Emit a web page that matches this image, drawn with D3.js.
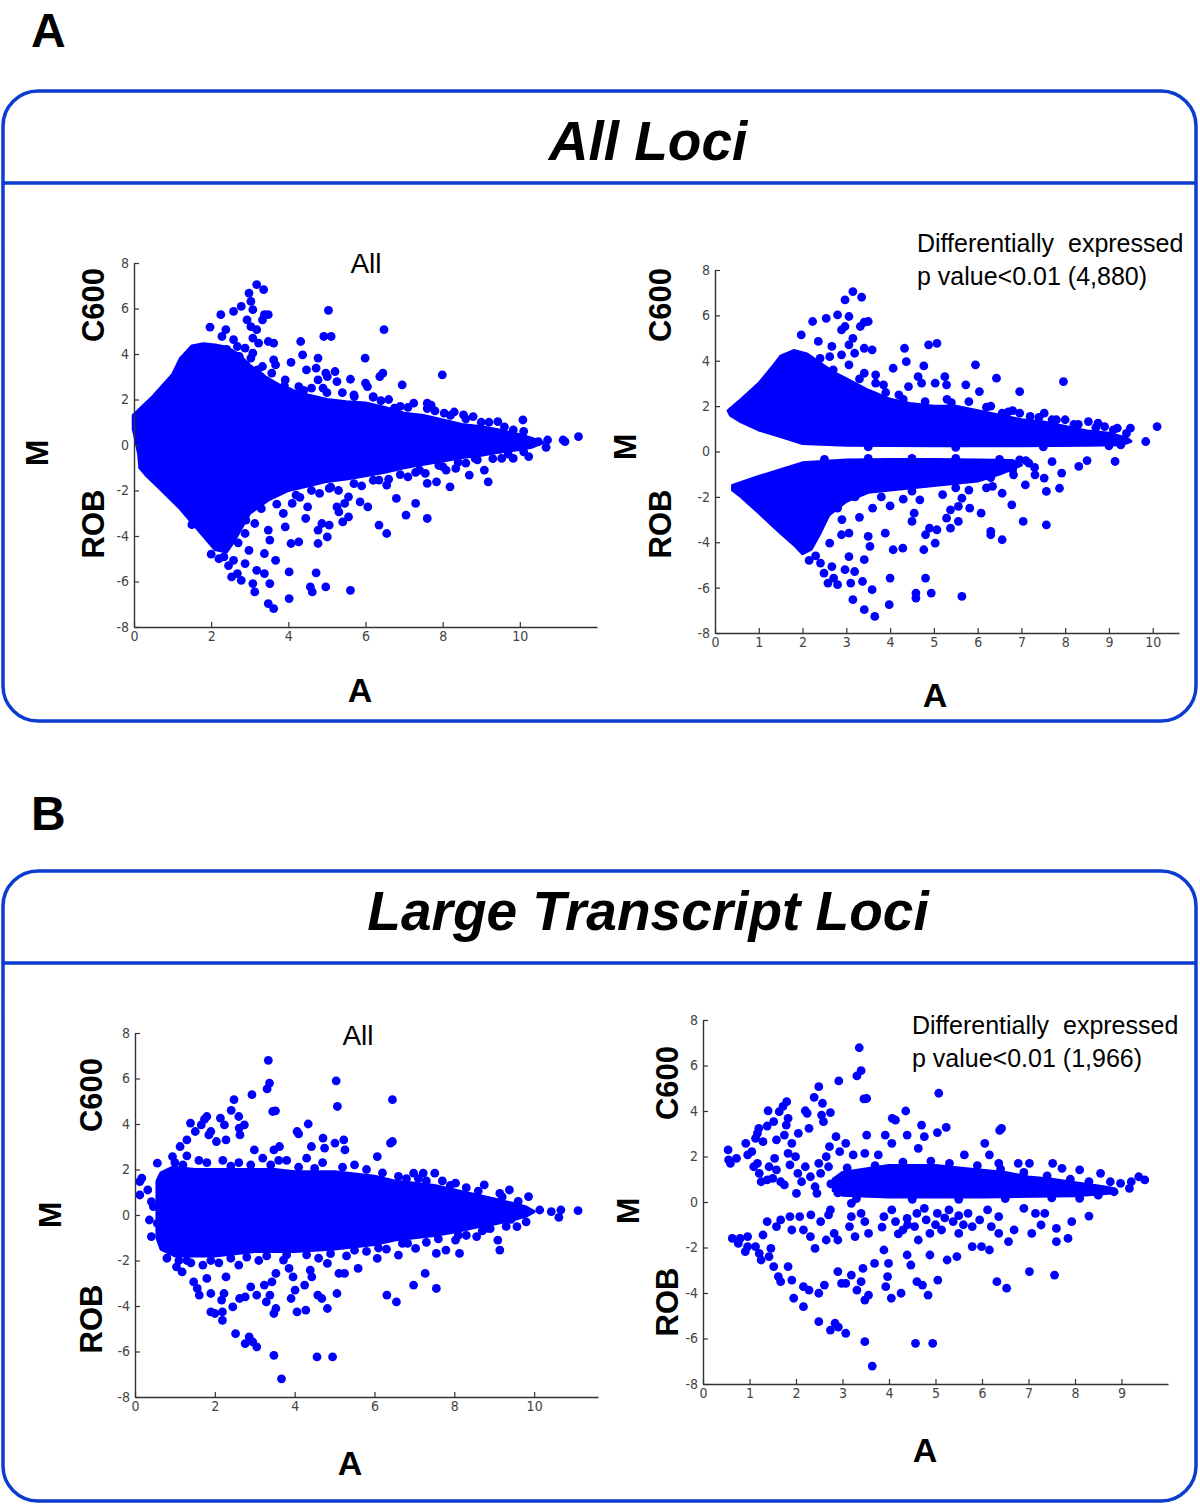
<!DOCTYPE html>
<html>
<head>
<meta charset="utf-8">
<script src="https://cdn.jsdelivr.net/npm/d3@7"></script>
<style>
  body { margin: 0; background: #fff; }
  svg text { font-family: "Liberation Sans", Arial, Helvetica, sans-serif; }
</style>
</head>
<body>
<div id="chart"></div>
<script>
// ---- text ----
const sectionLetters = ["A", "B"];
const sectionTitles = ["All Loci", "Large Transcript Loci"];
const panelNotes = [
    ["All"],
    ["Differentially  expressed", "p value<0.01 (4,880)"],
    ["All"],
    ["Differentially  expressed", "p value<0.01 (1,966)"]
];

// ---- ticks ----
const ticksM = [-8, -6, -4, -2, 0, 2, 4, 6, 8];
const ticksAEven = [0, 2, 4, 6, 8, 10];
const ticksAllRight = [0, 1, 2, 3, 4, 5, 6, 7, 8, 9, 10];
const ticksLargeRight = [0, 1, 2, 3, 4, 5, 6, 7, 8, 9];

// ---- dense cores, outline of the solid cloud as [A, M] ----
const coreAllLeft = [[-0.02,0.7],[-0.02,1.3],[0.5,2.15],[1.0,3.1],[1.2,3.8],[1.5,4.35],[1.8,4.45],[2.1,4.4],[2.4,4.3],[2.7,4.0],[3.0,3.5],[3.4,3.0],[3.8,2.6],[4.2,2.35],[4.5,2.2],[5.0,2.0],[5.5,1.9],[6.0,1.85],[6.5,1.65],[7.0,1.4],[7.5,1.3],[8.0,1.1],[8.5,0.9],[9.0,0.8],[9.5,0.65],[10.0,0.45],[10.3,0.3],[10.6,0.1],[10.3,-0.1],[10.0,-0.2],[9.5,-0.3],[9.0,-0.45],[8.5,-0.55],[8.0,-0.7],[7.5,-0.85],[7.0,-1.0],[6.5,-1.2],[6.0,-1.35],[5.5,-1.5],[5.0,-1.6],[4.5,-1.8],[4.0,-2.0],[3.5,-2.4],[3.0,-3.0],[2.8,-3.6],[2.6,-4.2],[2.4,-4.7],[2.1,-4.6],[1.8,-4.0],[1.2,-2.8],[0.6,-1.8],[0.3,-1.3],[0.15,-1.0],[0.12,-0.4],[0.05,0.2]];
const coreAllRightUp = [[0.3,1.8],[0.6,2.3],[1.0,3.0],[1.3,3.7],[1.5,4.2],[1.8,4.45],[2.1,4.3],[2.4,3.9],[2.7,3.5],[3.0,3.2],[3.5,2.7],[4.0,2.3],[4.5,2.1],[5.0,2.0],[5.5,2.0],[6.0,1.8],[6.5,1.6],[7.0,1.4],[7.5,1.3],[8.0,1.1],[8.5,0.9],[9.0,0.8],[9.4,0.6],[9.5,0.45],[9.3,0.3],[8.5,0.28],[7.0,0.25],[5.0,0.25],[3.0,0.27],[2.0,0.35],[1.5,0.66],[1.0,0.95],[0.6,1.3],[0.35,1.6]];
const coreAllRightDown = [[0.4,-1.5],[1.0,-1.1],[1.5,-0.8],[2.0,-0.5],[3.0,-0.38],[4.0,-0.35],[5.0,-0.35],[6.0,-0.38],[6.8,-0.4],[7.0,-0.6],[6.5,-1.0],[6.0,-1.3],[5.0,-1.5],[4.0,-1.7],[3.5,-1.8],[3.0,-2.2],[2.6,-2.8],[2.4,-3.6],[2.2,-4.3],[2.0,-4.5],[1.8,-4.1],[1.5,-3.6],[1.0,-2.7],[0.6,-2.0],[0.4,-1.7]];
const coreLargeLeft = [[0.55,-1.0],[0.55,1.5],[0.65,1.85],[0.95,2.1],[1.5,2.0],[2.0,2.0],[2.5,2.0],[3.0,2.0],[3.5,2.0],[4.0,1.9],[5.0,1.9],[6.0,1.7],[6.5,1.5],[7.0,1.4],[7.5,1.3],[8.0,1.1],[8.5,0.9],[9.0,0.7],[9.5,0.5],[9.8,0.35],[10.0,0.15],[9.8,-0.05],[9.5,-0.2],[9.0,-0.4],[8.5,-0.55],[8.0,-0.75],[7.5,-0.9],[7.0,-1.0],[6.5,-1.1],[6.0,-1.3],[5.5,-1.4],[5.0,-1.5],[4.0,-1.6],[3.0,-1.6],[2.5,-1.7],[2.0,-1.8],[1.5,-1.8],[1.0,-1.8],[0.65,-1.5]];
const coreLargeRight = [[2.8,0.5],[2.8,1.0],[3.0,1.3],[3.5,1.45],[4.0,1.6],[4.5,1.6],[5.0,1.6],[5.5,1.5],[6.0,1.4],[6.5,1.3],[7.0,1.1],[7.5,1.0],[8.0,0.85],[8.5,0.7],[8.8,0.6],[8.8,0.4],[8.0,0.28],[6.0,0.22],[4.0,0.22],[3.0,0.3]];

// ---- single loci outside / along the cores, [A, M] ----
const lociAllLeft = [[3.18,7.05],[3.36,6.83],[2.98,6.68],[3.03,6.31],[2.78,6.09],[2.58,5.87],[2.25,5.73],[3.08,5.95],[3.38,5.73],[3.48,5.73],[3.33,5.5],[2.93,5.5],[3.03,5.2],[1.97,5.18],[3.18,5.07],[2.38,5.07],[2.28,4.77],[2.58,4.63],[3.08,4.7],[2.68,4.33],[2.88,4.26],[3.23,4.48],[3.48,4.55],[3.62,4.48],[2.73,3.89],[3.03,3.82],[3.08,4.04],[3.33,3.45],[3.62,3.74],[3.67,3.52],[4.07,3.63],[4.32,4.55],[4.37,3.96],[4.77,3.82],[4.92,4.77],[5.11,4.77],[5.04,5.92],[6.48,5.07],[5.99,3.82],[4.72,3.38],[4.47,3.3],[4.97,3.16],[5.21,3.23],[5.01,3.01],[5.26,2.79],[5.61,2.89],[6.0,2.72],[6.05,2.57],[6.45,3.16],[6.37,3.01],[6.95,2.64],[7.99,3.08],[4.77,2.86],[4.27,2.57],[3.92,2.86],[3.57,3.16],[3.28,3.01],[3.67,2.57],[4.02,2.35],[5.71,2.13],[6.2,2.13],[6.75,1.62],[7.25,1.84],[7.6,1.84],[8.04,1.4],[8.54,1.32],[8.79,1.25],[9.43,1.03],[10.08,1.1],[9.83,0.66],[10.48,0.15],[10.72,0.22],[11.12,0.22],[11.17,0.15],[11.52,0.37],[10.68,-0.1],[10.23,-0.51],[9.83,-0.59],[9.53,-0.59],[9.48,-0.19],[8.84,-0.59],[9.08,-1.1],[9.18,-1.62],[8.69,-1.32],[8.34,-1.03],[8.09,-1.1],[8.19,-1.84],[7.84,-1.62],[7.6,-1.69],[7.55,-1.25],[7.1,-1.4],[7.3,-2.57],[7.05,-3.08],[7.6,-3.23],[6.8,-2.35],[6.55,-1.76],[6.35,-1.54],[6.06,-2.72],[5.86,-2.5],[5.56,-2.28],[5.46,-2.57],[5.26,-2.72],[5.31,-2.94],[5.56,-3.16],[5.41,-3.38],[5.06,-3.52],[4.87,-3.45],[4.77,-3.74],[5.01,-4.04],[4.77,-4.33],[4.72,-5.62],[4.97,-6.24],[4.57,-6.24],[4.62,-6.46],[5.61,-6.39],[4.02,-6.75],[4.02,-5.58],[4.07,-4.33],[4.27,-4.26],[3.92,-3.6],[4.45,-3.23],[4.5,-2.72],[4.1,-2.57],[3.87,-3.01],[6.35,-3.52],[6.55,-3.89],[4.81,-2.13],[5.06,-1.91],[3.38,-5.65],[3.48,-6.97],[3.62,-7.19],[3.52,-6.09],[3.13,-6.46],[3.38,-4.77],[3.52,-4.18],[3.48,-3.74],[3.13,-3.45],[2.88,-3.89],[2.98,-4.63],[2.88,-5.21],[2.68,-5.65],[2.53,-5.8],[3.08,-6.09],[2.78,-5.95],[2.58,-5.07],[2.33,-4.92],[3.18,-5.51],[3.67,-5.07],[2.4,4.2],[2.5,3.9],[2.9,3.5],[3.2,3.3],[3.9,2.6],[4.6,2.5],[5.4,2.3],[6.2,2.1],[6.9,1.7],[7.8,1.5],[8.2,1.3],[9.0,1.0],[2.7,-4.3],[2.9,-3.3],[3.3,-2.8],[3.7,-2.6],[4.3,-2.3],[5.3,-2.0],[5.9,-1.8],[6.6,-1.5],[7.3,-1.2],[8.0,-0.95],[8.6,-0.8],[9.3,-0.6],[1.5,-3.5],[2.0,-4.8],[2.2,-5.0],[2.45,-5.3],[4.4,2.4],[4.9,2.5],[5.0,2.3],[5.7,2.2],[6.4,1.95],[6.6,2.0],[7.1,1.65],[7.6,1.6],[7.7,1.75],[8.3,1.45],[8.6,1.15],[9.2,1.0],[9.6,0.8],[10.1,0.6],[4.2,-2.2],[4.6,-2.0],[5.1,-1.85],[5.7,-1.7],[6.2,-1.55],[6.9,-1.3],[7.4,-1.1],[7.9,-0.9],[8.4,-0.75],[8.9,-0.65],[9.7,-0.4],[10.1,-0.3]];

const lociAllRight = [[3.15,7.05],[3.35,6.8],[2.97,6.68],[3.06,5.95],[2.8,6.02],[2.54,5.87],[2.23,5.73],[3.32,5.51],[3.5,5.73],[3.41,5.7],[2.97,5.51],[2.89,5.36],[1.97,5.14],[3.15,4.99],[2.36,4.85],[2.67,4.63],[3.06,4.7],[3.41,4.55],[3.59,4.48],[3.19,4.33],[2.62,4.18],[2.89,4.26],[3.06,3.82],[3.41,3.45],[3.67,3.38],[4.33,4.55],[4.37,3.96],[4.77,3.77],[4.07,3.67],[4.88,4.7],[5.07,4.77],[5.95,3.82],[6.43,3.23],[7.96,3.08],[6.96,2.64],[6.04,2.64],[5.73,2.94],[5.25,3.3],[5.29,2.94],[5.03,3.01],[4.72,3.01],[4.64,3.3],[4.42,2.86],[3.85,2.94],[3.67,3.01],[7.52,1.69],[8.0,1.4],[8.53,1.32],[8.75,1.25],[9.19,1.03],[9.49,1.03],[10.1,1.1],[9.84,0.44],[9.27,0.29],[6.56,1.69],[6.96,1.69],[2.4,4.1],[2.7,3.6],[3.3,3.2],[3.9,2.6],[4.2,2.5],[5.3,2.3],[5.8,2.2],[6.3,2.0],[6.8,1.8],[7.4,1.5],[7.8,1.4],[8.3,1.2],[8.9,1.1],[9.4,0.8],[9.14,-0.44],[8.31,-0.66],[7.92,-0.95],[7.87,-1.62],[7.57,-1.76],[7.52,-1.17],[7.31,-1.03],[7.09,-1.47],[6.82,-1.03],[7.17,-0.51],[6.96,-0.37],[6.78,-2.35],[7.04,-3.08],[7.57,-3.23],[6.56,-1.84],[6.34,-1.54],[6.08,-2.72],[5.82,-2.5],[5.64,-2.06],[5.56,-2.42],[5.38,-2.57],[5.29,-2.94],[5.56,-3.08],[5.38,-3.38],[5.07,-3.45],[4.9,-3.38],[4.81,-3.67],[5.03,-4.04],[4.77,-4.33],[4.81,-5.58],[4.94,-6.24],[4.59,-6.24],[4.59,-6.46],[5.64,-6.39],[3.98,-6.75],[4.0,-5.58],[4.07,-4.33],[4.29,-4.26],[3.89,-3.6],[4.5,-3.08],[4.55,-2.72],[6.3,-3.52],[6.3,-3.67],[6.56,-3.89],[4.68,-2.13],[3.41,-6.97],[3.65,-7.27],[3.59,-6.09],[3.37,-5.73],[3.15,-6.53],[3.19,-5.29],[3.41,-4.77],[3.54,-4.18],[3.5,-3.74],[3.06,-3.6],[2.89,-3.67],[3.06,-4.63],[2.97,-5.21],[2.71,-5.58],[2.58,-5.8],[2.8,-5.87],[2.67,-5.07],[2.41,-4.92],[2.62,-4.04],[2.49,-5.36],[3.1,-5.8],[7.3,-0.7],[6.6,-0.6],[6.2,-1.6],[5.8,-1.7],[5.2,-1.9],[4.3,-2.1],[4.0,-2.4],[3.6,-2.5],[3.3,-2.9],[2.9,-3.0],[3.8,-2.0],[2.3,-4.6],[2.15,-4.8],[8.5,-0.4],[7.7,-0.45],[4.3,2.3],[4.8,2.2],[5.4,2.15],[6.2,1.95],[6.7,1.75],[7.2,1.55],[7.7,1.4],[8.2,1.2],[8.7,1.05],[9.1,0.95],[3.5,0.2],[5.5,0.18],[7.5,0.2],[9.0,0.25],[2.5,-0.35],[3.5,-0.3],[4.5,-0.3],[5.5,-0.3],[6.5,-0.35],[7.1,-0.4],[6.8,-0.8],[6.3,-1.15],[5.5,-1.6],[4.5,-1.75],[3.2,-2.0],[2.8,-2.5]];

const lociLargeLeft = [[3.34,6.8],[5.04,5.9],[6.45,5.07],[3.37,5.8],[3.31,5.54],[2.93,5.29],[2.48,5.07],[2.41,4.6],[2.6,4.33],[3.45,4.55],[3.52,4.58],[5.07,4.77],[2.14,4.26],[2.24,3.96],[1.39,4.04],[1.66,3.96],[1.8,4.33],[1.74,4.2],[2.74,3.96],[2.61,3.82],[2.63,3.52],[4.34,4.0],[4.06,3.67],[4.1,3.57],[4.71,3.38],[5.01,3.16],[5.23,3.3],[6.4,3.16],[6.45,3.23],[5.26,2.86],[6.07,2.57],[4.42,3.01],[4.75,2.94],[2.28,3.3],[2.04,3.23],[1.85,3.52],[1.9,3.67],[1.51,3.67],[1.3,3.3],[1.13,3.01],[0.94,2.57],[0.56,2.28],[0.17,1.62],[0.12,1.47],[0.12,0.88],[0.32,1.1],[0.41,0.59],[0.46,0.37],[0.36,-0.22],[0.41,-0.95],[0.56,-0.37],[3.62,3.01],[3.48,2.86],[2.99,2.86],[7.51,1.84],[7.22,1.84],[6.98,1.84],[8.03,1.4],[8.75,1.32],[9.38,1.1],[9.14,0.95],[9.86,0.81],[10.14,0.22],[10.43,0.15],[10.67,0.22],[11.1,0.19],[10.62,-0.1],[9.57,-0.51],[9.42,-0.19],[9.09,-1.1],[9.14,-1.54],[8.8,-0.59],[8.56,-0.95],[8.13,-1.69],[8.03,-1.1],[7.79,-1.54],[7.55,-1.69],[7.55,-3.23],[7.27,-2.57],[6.98,-3.08],[7.03,-1.47],[6.83,-1.25],[6.6,-1.76],[6.55,-3.82],[6.31,-3.52],[6.07,-1.91],[5.59,-2.35],[5.25,-2.57],[5.11,-2.57],[5.06,-3.45],[4.82,-4.11],[4.68,-3.67],[4.58,-3.52],[4.82,-2.13],[4.43,-2.72],[4.25,-3.08],[4.39,-2.42],[4.06,-4.26],[4.28,-4.18],[3.91,-3.67],[4.01,-3.3],[3.96,-2.72],[3.86,-2.35],[3.72,-1.98],[3.53,-2.57],[3.43,-2.94],[3.48,-4.33],[3.53,-4.11],[3.38,-3.52],[3.29,-3.82],[3.24,-3.08],[3.05,-3.52],[2.76,-3.6],[2.9,-3.16],[2.62,-3.67],[2.45,-4.04],[2.23,-3.45],[2.17,-3.74],[2.19,-4.26],[2.19,-4.63],[2.0,-4.33],[1.9,-4.26],[1.8,-2.79],[1.9,-3.45],[1.61,-3.52],[1.56,-3.23],[1.47,-2.94],[2.28,-2.72],[2.52,-5.21],[2.76,-5.65],[2.86,-5.36],[2.95,-5.58],[3.05,-5.8],[3.48,-6.17],[3.67,-7.2],[4.56,-6.24],[4.95,-6.24],[1.18,-2.5],[1.04,-2.28],[1.0,2.3],[1.3,2.6],[1.6,2.4],[2.2,2.4],[2.6,2.3],[3.2,2.5],[3.8,2.4],[4.3,2.5],[4.7,2.3],[5.5,2.2],[5.8,2.0],[6.6,1.7],[7.1,1.6],[7.7,1.5],[8.3,1.2],[1.1,-2.0],[1.4,-2.1],[1.7,-2.2],[2.1,-2.1],[2.6,-2.2],[3.1,-2.0],[4.6,-1.9],[5.3,-1.8],[5.8,-1.6],[6.3,-1.5],[7.3,-1.2],[8.3,-0.9],[8.9,-0.6],[1.2,2.2],[1.8,2.3],[2.4,2.15],[2.9,2.2],[3.4,2.2],[3.6,2.4],[4.1,2.1],[4.5,2.05],[5.2,2.1],[6.2,1.85],[6.8,1.6],[7.3,1.5],[7.9,1.3],[8.6,1.05],[9.2,0.8],[9.6,0.6],[0.8,-1.9],[1.3,-2.0],[1.9,-2.0],[2.4,-1.9],[2.8,-1.85],[3.3,-1.8],[3.8,-1.75],[4.3,-1.75],[4.9,-1.7],[5.5,-1.55],[6.1,-1.45],[6.7,-1.25],[7.6,-1.05],[8.1,-0.9],[8.7,-0.7],[9.3,-0.5],[9.8,-0.3]];

const lociLargeRight = [[3.36,6.78],[3.4,5.77],[3.31,5.54],[2.92,5.32],[2.49,5.07],[2.39,4.6],[2.57,4.34],[2.74,3.93],[2.55,3.82],[2.59,3.53],[3.46,4.53],[3.52,4.55],[5.07,4.78],[4.36,4.0],[4.07,3.68],[4.14,3.6],[4.7,3.38],[5.04,3.05],[5.23,3.28],[6.42,3.24],[6.38,3.15],[6.06,2.58],[3.52,2.94],[3.92,2.94],[4.39,2.94],[4.76,2.87],[4.06,2.58],[2.28,3.24],[2.05,3.02],[2.2,4.01],[2.24,3.9],[1.8,4.41],[1.72,4.2],[1.64,3.97],[1.4,4.01],[1.52,3.53],[1.38,3.34],[1.2,3.24],[1.17,3.02],[1.83,3.68],[1.79,3.38],[1.75,2.94],[1.58,2.73],[1.29,2.65],[1.13,2.8],[0.92,2.58],[0.54,2.29],[0.55,1.85],[0.59,1.7],[0.72,1.92],[0.96,2.07],[1.05,2.21],[1.09,1.55],[1.17,1.7],[1.21,1.26],[1.25,0.89],[1.38,0.97],[1.42,1.55],[1.54,1.92],[1.58,1.41],[1.5,1.04],[1.67,0.89],[1.75,0.75],[1.83,2.14],[1.87,1.63],[1.91,2.58],[1.99,1.99],[2.04,1.26],[2.12,0.89],[2.01,0.38],[2.2,1.55],[2.31,1.11],[2.41,0.67],[2.45,0.38],[2.49,1.7],[2.53,1.26],[2.65,1.99],[2.72,2.43],[2.7,1.55],[2.86,2.87],[2.94,2.21],[3.07,2.58],[3.23,2.07],[3.48,2.14],[3.77,2.07],[4.63,2.36],[5.62,2.07],[6.16,2.07],[6.36,1.7],[6.78,1.7],[7.02,1.7],[7.52,1.7],[7.72,1.48],[8.1,1.41],[8.55,1.26],[8.76,0.89],[8.98,0.82],[9.21,0.89],[9.37,1.11],[9.5,0.97],[9.17,0.6],[8.84,0.45],[8.1,0.16],[3.19,-0.06],[8.3,-0.62],[7.93,-0.86],[7.85,-1.6],[7.6,-1.16],[7.6,-1.74],[7.35,-0.5],[7.15,-0.5],[7.27,-1.01],[7.07,-1.38],[6.9,-0.28],[6.69,-1.23],[7.02,-3.06],[7.56,-3.21],[6.32,-3.5],[6.53,-3.79],[6.57,-1.74],[6.36,-1.38],[6.16,-2.11],[5.99,-1.96],[5.79,-1.96],[5.46,-2.4],[5.25,-2.55],[5.05,-3.43],[4.84,-4.09],[4.72,-3.65],[4.6,-3.5],[4.88,-2.33],[4.47,-2.77],[4.39,-2.33],[4.26,-4.01],[4.05,-4.23],[3.93,-3.72],[3.97,-3.28],[3.99,-2.7],[3.89,-2.11],[3.69,-2.7],[3.48,-4.31],[3.56,-4.09],[3.44,-2.92],[3.4,-3.5],[3.31,-3.87],[3.19,-3.21],[3.07,-3.58],[2.9,-3.06],[2.98,-3.58],[2.61,-3.65],[2.49,-4.01],[2.28,-3.87],[2.16,-3.72],[2.16,-4.6],[1.95,-4.23],[1.91,-3.43],[1.83,-2.84],[1.67,-3.5],[1.62,-3.28],[1.52,-2.84],[1.42,-2.4],[1.46,-2.04],[1.25,-2.55],[1.21,-2.26],[1.13,-1.96],[0.96,-1.96],[0.91,-2.18],[0.76,-1.82],[0.63,-1.6],[0.8,-1.6],[0.96,-1.52],[1.29,-1.45],[1.38,-0.86],[1.58,-1.08],[1.67,-0.79],[1.91,-1.23],[1.87,-0.64],[2.08,-0.64],[2.16,-1.23],[2.32,-0.57],[2.31,-1.52],[2.53,-0.86],[2.7,-0.57],[2.74,-0.35],[2.82,-1.38],[2.9,-1.67],[2.65,-1.67],[2.41,-2.04],[3.15,-1.08],[3.19,-0.64],[3.27,-1.52],[3.4,-0.5],[3.48,-0.86],[3.56,-1.38],[3.89,-0.64],[4.06,-0.35],[4.14,-0.86],[4.3,-1.23],[4.39,-0.72],[4.55,-1.08],[4.63,-1.67],[4.76,-0.28],[4.8,-0.79],[4.88,-1.38],[5.04,-0.5],[5.13,-1.23],[5.29,-0.35],[5.38,-0.86],[5.5,-1.38],[5.7,-0.5],[5.79,-1.08],[5.95,-0.79],[6.12,-0.35],[6.2,-1.08],[6.36,-0.64],[2.49,-5.26],[2.74,-5.63],[2.84,-5.33],[2.91,-5.5],[3.07,-5.77],[3.48,-6.14],[3.64,-7.21],[4.57,-6.21],[4.94,-6.21],[3.85,-1.1],[4.2,-1.4],[4.6,-0.5],[5.6,-1.0],[5.2,-0.7],[4.4,-1.0],[5.0,-1.0],[5.5,-0.6],[3.1,1.5],[3.7,1.6],[4.3,1.75],[4.9,1.8],[5.3,1.7],[5.9,1.6],[6.4,1.45],[6.9,1.3],[7.4,1.15],[7.9,1.0],[8.3,0.9],[3.3,0.15],[4.5,0.12],[5.5,0.12],[6.5,0.15],[7.5,0.18],[8.5,0.3],[2.9,0.4],[2.75,0.8]];

// ---- layout (pixel frames of the four MA plots) ----
const BLUE_BOX = "#0b3ccf";
const DOT = "#0000ff";

const panels = [
    { cores: [coreAllLeft], loci: lociAllLeft, xMax: 12, xTicks: ticksAEven,
      x: [134, 597], y: [263, 627], note: panelNotes[0], noteX: 366, noteY: 273, noteAnchor: "middle", noteSize: 28,
      c600: [93, 305], rob: [93, 524], m: [37, 453], a: [360, 702] },
    { cores: [coreAllRightUp, coreAllRightDown], loci: lociAllRight, xMax: 10.6, xTicks: ticksAllRight,
      x: [715, 1179], y: [270, 633], note: panelNotes[1], noteX: 917, noteY: 252, noteAnchor: "start", noteSize: 25,
      c600: [660, 305], rob: [660, 524], m: [625, 447], a: [935, 707] },
    { cores: [coreLargeLeft], loci: lociLargeLeft, xMax: 11.6, xTicks: ticksAEven,
      x: [135, 598], y: [1033, 1397], note: panelNotes[2], noteX: 358, noteY: 1045, noteAnchor: "middle", noteSize: 28,
      c600: [91, 1095], rob: [91, 1319], m: [50, 1215], a: [350, 1475] },
    { cores: [coreLargeRight], loci: lociLargeRight, xMax: 10, xTicks: ticksLargeRight,
      x: [703, 1168], y: [1020, 1384], note: panelNotes[3], noteX: 912, noteY: 1034, noteAnchor: "start", noteSize: 25,
      c600: [667, 1083], rob: [667, 1302], m: [628, 1211], a: [925, 1462] }
];

const svg = d3.select("#chart")
    .append("svg")
    .attr("width", 1200)
    .attr("height", 1504);

// Section frames: letter, rounded box, header with title
const sections = [
    { letterY: 47, top: 91, bottom: 721, rule: 183, titleY: 160 },
    { letterY: 830, top: 871, bottom: 1501, rule: 963, titleY: 930 }
];
sections.forEach((s, i) => {
    svg.append("text")
        .attr("x", 31).attr("y", s.letterY)
        .attr("font-size", 48).attr("font-weight", "bold")
        .text(sectionLetters[i]);
    svg.append("rect")
        .attr("x", 3).attr("y", s.top)
        .attr("width", 1193).attr("height", s.bottom - s.top)
        .attr("rx", 35).attr("ry", 35)
        .attr("fill", "none").attr("stroke", BLUE_BOX).attr("stroke-width", 3.5);
    svg.append("line")
        .attr("x1", 3).attr("x2", 1196)
        .attr("y1", s.rule).attr("y2", s.rule)
        .attr("stroke", BLUE_BOX).attr("stroke-width", 3.5);
    svg.append("text")
        .attr("x", 648).attr("y", s.titleY)
        .attr("text-anchor", "middle")
        .attr("font-size", 55).attr("font-weight", "bold").attr("font-style", "italic")
        .text(sectionTitles[i]);
});

panels.forEach(p => {
    const x = d3.scaleLinear().domain([0, p.xMax]).range(p.x);
    const y = d3.scaleLinear().domain([-8, 8]).range([p.y[1], p.y[0]]);
    const g = svg.append("g");

    // Solid part of the cloud
    const outline = d3.line().x(d => x(d[0])).y(d => y(d[1])).curve(d3.curveLinearClosed);
    g.selectAll("path.core")
        .data(p.cores)
        .enter()
        .append("path")
        .attr("class", "core")
        .attr("d", outline)
        .attr("fill", DOT)
        .attr("stroke", DOT)
        .attr("stroke-width", 3)
        .attr("stroke-linejoin", "round");

    // Individual loci
    g.selectAll("circle")
        .data(p.loci)
        .enter()
        .append("circle")
        .attr("cx", d => x(d[0]))
        .attr("cy", d => y(d[1]))
        .attr("r", 4.4)
        .attr("fill", DOT);

    // Axes, ticks pointing inward like MATLAB; plain hyphen minus
    const fmt = d => String(d);
    const yAxis = g.append("g")
        .attr("transform", `translate(${p.x[0]},0)`)
        .call(d3.axisLeft(y).tickValues(ticksM).tickFormat(fmt).tickSize(-5).tickPadding(5).tickSizeOuter(0));
    const xAxis = g.append("g")
        .attr("transform", `translate(0,${p.y[1]})`)
        .call(d3.axisBottom(x).tickValues(p.xTicks).tickFormat(fmt).tickSize(-5).tickPadding(4).tickSizeOuter(0));
    [yAxis, xAxis].forEach(ax => {
        ax.select(".domain").attr("stroke", "#333").attr("stroke-width", 1.4);
        ax.selectAll(".tick line").attr("stroke", "#333").attr("stroke-width", 1.2);
        ax.selectAll(".tick text")
            .attr("fill", "#444")
            .attr("font-size", 14)
            .style("font-family", "'Liberation Sans Narrow', 'DejaVu Sans Condensed', sans-serif");
    });

    // Axis captions
    const rotated = (pos, label, size) => {
        g.append("text")
            .attr("transform", `translate(${pos[0]},${pos[1]}) rotate(-90)`)
            .attr("text-anchor", "middle")
            .attr("dominant-baseline", "central")
            .attr("font-size", size).attr("font-weight", "bold")
            .text(label);
    };
    rotated(p.c600, "C600", 31);
    rotated(p.rob, "ROB", 31);
    rotated(p.m, "M", 32);
    g.append("text")
        .attr("x", p.a[0]).attr("y", p.a[1])
        .attr("text-anchor", "middle")
        .attr("font-size", 34).attr("font-weight", "bold")
        .text("A");

    // Panel note
    p.note.forEach((line, i) => {
        g.append("text")
            .attr("x", p.noteX).attr("y", p.noteY + i * 33)
            .attr("text-anchor", p.noteAnchor)
            .attr("font-size", p.noteSize)
            .style("white-space", "pre")
            .text(line);
    });
});
</script>
</body>
</html>
